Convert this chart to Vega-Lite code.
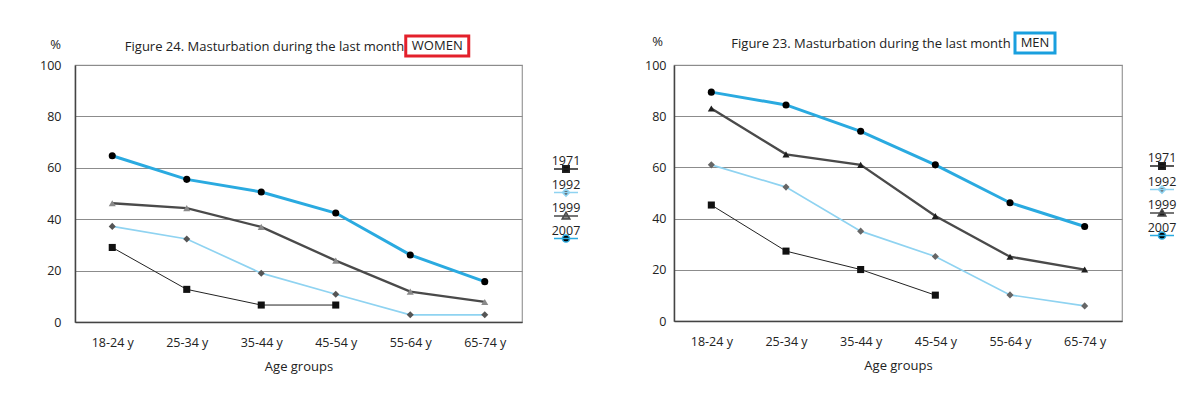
{
  "$schema": "https://vega.github.io/schema/vega-lite/v6.json",
  "padding": {"left": 38, "top": 26, "right": 0, "bottom": 0},
  "background": "white",
  "config": {
    "font": "Open Sans",
    "view": {"stroke": "#9a9a9a", "strokeWidth": 1.2},
    "axis": {"labelFont": "Open Sans", "titleFont": "Open Sans", "labelColor": "#222", "titleColor": "#222", "labelFontSize": 12.5, "titleFontSize": 13, "titleFontWeight": "normal", "ticks": false},
    "axisX": {"labelAngle": 0, "labelPadding": 14, "titlePadding": 12, "domainColor": "#444", "domainWidth": 1.5, "grid": false},
    "axisY": {"titleAngle": 0, "titleAlign": "center", "titleBaseline": "middle", "tickCount": 10, "domainColor": "#444", "domainWidth": 1.5, "gridColor": "#8c8c8c", "gridWidth": 1.2},
    "legend": {"labelFont": "Open Sans", "labelFontSize": 12.5, "labelColor": "#222", "labelAlign": "center", "labelBaseline": "line-bottom", "labelLineHeight": 22, "labelOffset": -13, "symbolSize": 576, "symbolStrokeWidth": 1.5, "rowPadding": 2.5, "padding": 0},
    "title": {"font": "Open Sans", "fontSize": 13, "fontWeight": "normal", "color": "#222"}
  },
  "datasets": {
    "survey": [
      {"sex": "W", "year": "1971", "age": "18-24 y", "pct": 29},
      {"sex": "W", "year": "1971", "age": "25-34 y", "pct": 12.7},
      {"sex": "W", "year": "1971", "age": "35-44 y", "pct": 6.6},
      {"sex": "W", "year": "1971", "age": "45-54 y", "pct": 6.6},
      {"sex": "W", "year": "1992", "age": "18-24 y", "pct": 37.2},
      {"sex": "W", "year": "1992", "age": "25-34 y", "pct": 32.3},
      {"sex": "W", "year": "1992", "age": "35-44 y", "pct": 19},
      {"sex": "W", "year": "1992", "age": "45-54 y", "pct": 10.8},
      {"sex": "W", "year": "1992", "age": "55-64 y", "pct": 2.8},
      {"sex": "W", "year": "1992", "age": "65-74 y", "pct": 2.8},
      {"sex": "W", "year": "1999", "age": "18-24 y", "pct": 46.2},
      {"sex": "W", "year": "1999", "age": "25-34 y", "pct": 44.3},
      {"sex": "W", "year": "1999", "age": "35-44 y", "pct": 37},
      {"sex": "W", "year": "1999", "age": "45-54 y", "pct": 23.9},
      {"sex": "W", "year": "1999", "age": "55-64 y", "pct": 11.8},
      {"sex": "W", "year": "1999", "age": "65-74 y", "pct": 7.8},
      {"sex": "W", "year": "2007", "age": "18-24 y", "pct": 64.7},
      {"sex": "W", "year": "2007", "age": "25-34 y", "pct": 55.5},
      {"sex": "W", "year": "2007", "age": "35-44 y", "pct": 50.6},
      {"sex": "W", "year": "2007", "age": "45-54 y", "pct": 42.4},
      {"sex": "W", "year": "2007", "age": "55-64 y", "pct": 26.1},
      {"sex": "W", "year": "2007", "age": "65-74 y", "pct": 15.7},
      {"sex": "M", "year": "1971", "age": "18-24 y", "pct": 45.3},
      {"sex": "M", "year": "1971", "age": "25-34 y", "pct": 27.3},
      {"sex": "M", "year": "1971", "age": "35-44 y", "pct": 20.1},
      {"sex": "M", "year": "1971", "age": "45-54 y", "pct": 10.1},
      {"sex": "M", "year": "1992", "age": "18-24 y", "pct": 61},
      {"sex": "M", "year": "1992", "age": "25-34 y", "pct": 52.3},
      {"sex": "M", "year": "1992", "age": "35-44 y", "pct": 35.1},
      {"sex": "M", "year": "1992", "age": "45-54 y", "pct": 25.2},
      {"sex": "M", "year": "1992", "age": "55-64 y", "pct": 10.2},
      {"sex": "M", "year": "1992", "age": "65-74 y", "pct": 5.9},
      {"sex": "M", "year": "1999", "age": "18-24 y", "pct": 83},
      {"sex": "M", "year": "1999", "age": "25-34 y", "pct": 65.1},
      {"sex": "M", "year": "1999", "age": "35-44 y", "pct": 61},
      {"sex": "M", "year": "1999", "age": "45-54 y", "pct": 41},
      {"sex": "M", "year": "1999", "age": "55-64 y", "pct": 25.1},
      {"sex": "M", "year": "1999", "age": "65-74 y", "pct": 20.1},
      {"sex": "M", "year": "2007", "age": "18-24 y", "pct": 89.4},
      {"sex": "M", "year": "2007", "age": "25-34 y", "pct": 84.4},
      {"sex": "M", "year": "2007", "age": "35-44 y", "pct": 74.1},
      {"sex": "M", "year": "2007", "age": "45-54 y", "pct": 61},
      {"sex": "M", "year": "2007", "age": "55-64 y", "pct": 46.2},
      {"sex": "M", "year": "2007", "age": "65-74 y", "pct": 36.9}
    ]
  },
  "hconcat": [
    {
      "width": 447,
      "height": 257,
      "title": {"text": "Figure 24. Masturbation during the last month", "anchor": "middle", "dx": -34, "offset": -24},
      "resolve": {"scale": {"shape": "independent", "stroke": "independent", "fill": "independent"}, "legend": {"shape": "independent", "stroke": "independent", "fill": "independent"}},
      "layer": [
        {
          "data": {"name": "survey"},
          "transform": [{"filter": "datum.sex === 'W'"}],
          "mark": {"type": "line"},
          "encoding": {
            "x": {"field": "age", "type": "ordinal", "scale": {"type": "point", "padding": 0.5}, "axis": {"title": "Age groups"}},
            "y": {"field": "pct", "type": "quantitative", "scale": {"domain": [0, 100]}, "axis": {"title": "%", "titleX": -20, "titleY": -21, "labelPadding": 14, "values": [0,10,20,30,40,50,60,70,80,90,100]}},
            "stroke": {"field": "year", "type": "nominal", "scale": {"domain": ["1971","1992","1999","2007"], "range": ["#222222","#8fd3f1","#4a4a4a","#2aaae0"]}, "legend": null},
            "strokeWidth": {"field": "year", "type": "nominal", "scale": {"domain": ["1971","1992","1999","2007"], "range": [1, 3, 1.8, 2]}, "legend": null}
          }
        },
        {
          "data": {"name": "survey"},
          "transform": [{"filter": "datum.sex === 'W'"}],
          "mark": {"type": "point", "filled": true, "size": 50, "opacity": 1},
          "encoding": {
            "x": {"field": "age", "type": "ordinal", "scale": {"type": "point", "padding": 0.5}, "axis": {"title": "Age groups"}},
            "y": {"field": "pct", "type": "quantitative", "scale": {"domain": [0, 100]}, "axis": {"title": "%", "titleX": -20, "titleY": -21, "labelPadding": 14, "values": [0,10,20,30,40,50,60,70,80,90,100]}},
            "shape": {"field": "year", "type": "nominal", "scale": {"domain": ["1971","1992","1999","2007"], "range": ["square","diamond","triangle-up","circle"]}, "legend": null},
            "fill": {"field": "year", "type": "nominal", "scale": {"domain": ["1971","1992","1999","2007"], "range": ["#111111","#555555","#8a8a8a","#000000"]}, "legend": null}
          }
        },
        {
          "data": {"name": "survey"},
          "transform": [{"filter": "false"}],
          "mark": {"type": "point", "filled": true, "opacity": 1},
          "encoding": {
            "x": {"field": "age", "type": "ordinal", "scale": {"type": "point", "padding": 0.5}, "axis": {"title": "Age groups"}},
            "y": {"field": "pct", "type": "quantitative", "scale": {"domain": [0, 100]}, "axis": {"title": "%", "titleX": -20, "titleY": -21, "labelPadding": 14, "values": [0,10,20,30,40,50,60,70,80,90,100]}},
            "shape": {"field": "year", "type": "nominal", "scale": {"domain": ["1971","1992","1999","2007"], "range": ["M-1,0H1M-0.27,-0.27H0.27V0.27H-0.27Z", "M-1,0H1M0,-0.3L0.3,0L0,0.3L-0.3,0Z", "M-1,0H1M0,-0.32L0.32,0.24L-0.32,0.24Z", "M-1,0H1M-0.3,0A0.3,0.3,0,1,0,0.3,0A0.3,0.3,0,1,0,-0.3,0Z"]}, "legend": {"title": null, "orient": "none", "legendX": 478, "legendY": 91}},
            "stroke": {"field": "year", "type": "nominal", "scale": {"domain": ["1971","1992","1999","2007"], "range": ["#222222","#8fd3f1","#4a4a4a","#2aaae0"]}, "legend": {"title": null, "orient": "none", "legendX": 478, "legendY": 91}},
            "fill": {"field": "year", "type": "nominal", "scale": {"domain": ["1971","1992","1999","2007"], "range": ["#111111","#555555","#8a8a8a","#000000"]}, "legend": {"title": null, "orient": "none", "legendX": 478, "legendY": 91}}
          }
        },
        {
          "data": {"values": [{"label": "WOMEN"}]},
          "mark": {"type": "point", "shape": "M-1,-0.317H1V0.317H-1Z", "size": 3969, "filled": false, "stroke": "#e3202b", "strokeWidth": 3, "opacity": 1, "xOffset": 27, "yOffset": -19},
          "encoding": {"x": {"datum": "55-64 y", "type": "ordinal", "axis": {"title": "Age groups"}}, "y": {"value": 0}}
        },
        {
          "data": {"values": [{"label": "WOMEN"}]},
          "mark": {"type": "text", "font": "Open Sans", "fontSize": 13, "color": "#222", "xOffset": 27, "yOffset": -19, "baseline": "middle", "align": "center"},
          "encoding": {"x": {"datum": "55-64 y", "type": "ordinal", "axis": {"title": "Age groups"}}, "y": {"value": 0}, "text": {"field": "label", "type": "nominal"}}
        }
      ]
    },
    {
      "width": 448,
      "height": 256,
      "title": {"text": "Figure 23. Masturbation during the last month", "anchor": "middle", "dx": -27, "offset": -24},
      "resolve": {"scale": {"shape": "independent", "stroke": "independent", "fill": "independent"}, "legend": {"shape": "independent", "stroke": "independent", "fill": "independent"}},
      "layer": [
        {
          "data": {"name": "survey"},
          "transform": [{"filter": "datum.sex === 'M'"}],
          "mark": {"type": "line"},
          "encoding": {
            "x": {"field": "age", "type": "ordinal", "scale": {"type": "point", "padding": 0.5}, "axis": {"title": "Age groups"}},
            "y": {"field": "pct", "type": "quantitative", "scale": {"domain": [0, 100]}, "axis": {"title": "%", "titleX": -17, "titleY": -24, "labelPadding": 8, "values": [0,10,20,30,40,50,60,70,80,90,100]}},
            "stroke": {"field": "year", "type": "nominal", "scale": {"domain": ["1971","1992","1999","2007"], "range": ["#222222","#8fd3f1","#4a4a4a","#2aaae0"]}, "legend": null},
            "strokeWidth": {"field": "year", "type": "nominal", "scale": {"domain": ["1971","1992","1999","2007"], "range": [1, 3, 1.8, 2]}, "legend": null}
          }
        },
        {
          "data": {"name": "survey"},
          "transform": [{"filter": "datum.sex === 'M'"}],
          "mark": {"type": "point", "filled": true, "size": 50, "opacity": 1},
          "encoding": {
            "x": {"field": "age", "type": "ordinal", "scale": {"type": "point", "padding": 0.5}, "axis": {"title": "Age groups"}},
            "y": {"field": "pct", "type": "quantitative", "scale": {"domain": [0, 100]}, "axis": {"title": "%", "titleX": -17, "titleY": -24, "labelPadding": 8, "values": [0,10,20,30,40,50,60,70,80,90,100]}},
            "shape": {"field": "year", "type": "nominal", "scale": {"domain": ["1971","1992","1999","2007"], "range": ["square","diamond","triangle-up","circle"]}, "legend": null},
            "fill": {"field": "year", "type": "nominal", "scale": {"domain": ["1971","1992","1999","2007"], "range": ["#111111","#666666","#1e1e1e","#000000"]}, "legend": null}
          }
        },
        {
          "data": {"name": "survey"},
          "transform": [{"filter": "false"}],
          "mark": {"type": "point", "filled": true, "opacity": 1},
          "encoding": {
            "x": {"field": "age", "type": "ordinal", "scale": {"type": "point", "padding": 0.5}, "axis": {"title": "Age groups"}},
            "y": {"field": "pct", "type": "quantitative", "scale": {"domain": [0, 100]}, "axis": {"title": "%", "titleX": -17, "titleY": -24, "labelPadding": 8, "values": [0,10,20,30,40,50,60,70,80,90,100]}},
            "shape": {"field": "year", "type": "nominal", "scale": {"domain": ["1971","1992","1999","2007"], "range": ["M-1,0H1M-0.27,-0.27H0.27V0.27H-0.27Z", "M-1,0H1M0,-0.3L0.3,0L0,0.3L-0.3,0Z", "M-1,0H1M0,-0.32L0.32,0.24L-0.32,0.24Z", "M-1,0H1M-0.3,0A0.3,0.3,0,1,0,0.3,0A0.3,0.3,0,1,0,-0.3,0Z"]}, "legend": {"title": null, "orient": "none", "legendX": 475, "legendY": 88}},
            "stroke": {"field": "year", "type": "nominal", "scale": {"domain": ["1971","1992","1999","2007"], "range": ["#222222","#8fd3f1","#4a4a4a","#2aaae0"]}, "legend": {"title": null, "orient": "none", "legendX": 475, "legendY": 88}},
            "fill": {"field": "year", "type": "nominal", "scale": {"domain": ["1971","1992","1999","2007"], "range": ["#111111","#666666","#1e1e1e","#000000"]}, "legend": {"title": null, "orient": "none", "legendX": 475, "legendY": 88}}
          }
        },
        {
          "data": {"values": [{"label": "MEN"}]},
          "mark": {"type": "point", "shape": "M-1,-0.5H1V0.5H-1Z", "size": 1600, "filled": false, "stroke": "#199fde", "strokeWidth": 3, "opacity": 1, "xOffset": 25, "yOffset": -22},
          "encoding": {"x": {"datum": "55-64 y", "type": "ordinal", "axis": {"title": "Age groups"}}, "y": {"value": 0}}
        },
        {
          "data": {"values": [{"label": "MEN"}]},
          "mark": {"type": "text", "font": "Open Sans", "fontSize": 13, "color": "#222", "xOffset": 25, "yOffset": -22, "baseline": "middle", "align": "center"},
          "encoding": {"x": {"datum": "55-64 y", "type": "ordinal", "axis": {"title": "Age groups"}}, "y": {"value": 0}, "text": {"field": "label", "type": "nominal"}}
        }
      ]
    }
  ],
  "spacing": 61,
  "resolve": {
    "scale": {"stroke": "independent", "fill": "independent", "shape": "independent", "strokeWidth": "independent"},
    "legend": {"stroke": "independent", "fill": "independent", "shape": "independent"}
  }
}
